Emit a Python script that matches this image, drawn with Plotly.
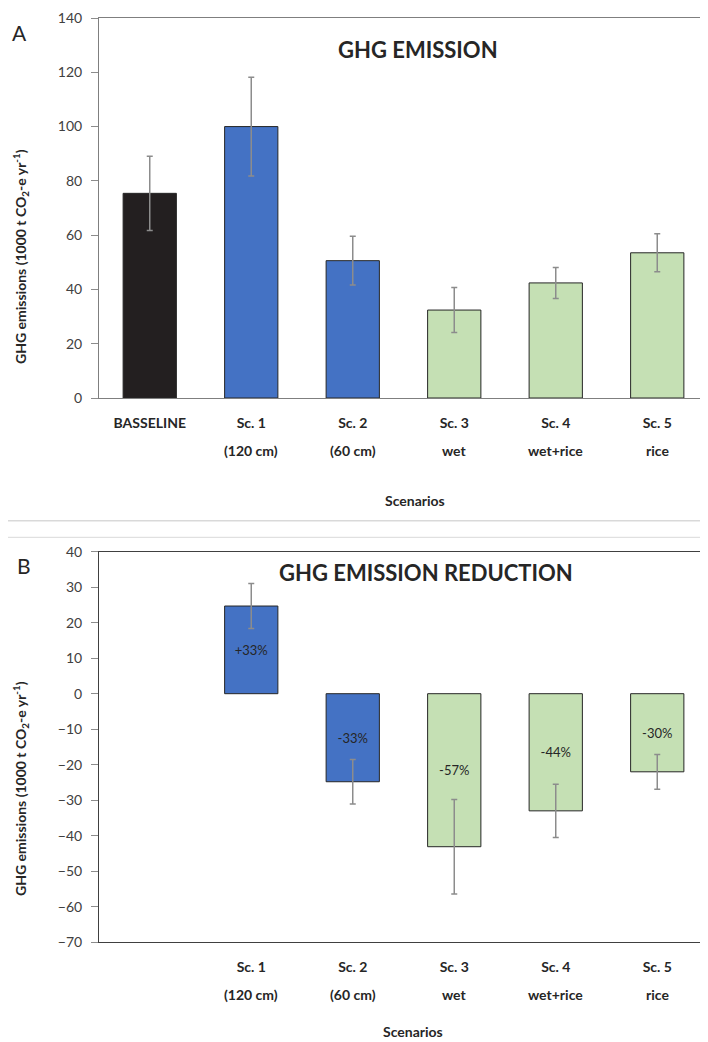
import plotly.graph_objects as go

categories = ["BASSELINE", "Sc. 1", "Sc. 2", "Sc. 3", "Sc. 4", "Sc. 5"]
sublabels = ["", "(120 cm)", "(60 cm)", "wet", "wet+rice", "rice"]
emission = [75.4, 100.0, 50.6, 32.4, 42.4, 53.5]
emission_err = [13.7, 18.2, 9.0, 8.3, 5.7, 7.0]
reduction = [None, 24.7, -24.8, -43.1, -33.0, -22.0]
reduction_err = [None, 6.35, 6.3, 13.3, 7.5, 4.9]
reduction_labels = ["", "+33%", "-33%", "-57%", "-44%", "-30%"]
top_ticks = [0, 20, 40, 60, 80, 100, 120, 140]
bottom_ticks = [40, 30, 20, 10, 0, -10, -20, -30, -40, -50, -60, -70]

# the page body adds an 8 px margin, so the figure is drawn 8 px smaller
OFF = 8
W, H = 708 - OFF, 1042 - OFF
ML = 99 - OFF
FONT = "Lato"
BLACK, BLUE, GREEN = "#231f20", "#4472c4", "#c5e0b4"
colors = [BLACK, BLUE, BLUE, GREEN, GREEN, GREEN]


def px_x(px):
    """screen pixel x -> paper fraction"""
    return (px - OFF - ML) / (W - ML)


def px_y(py):
    """screen pixel y -> paper fraction"""
    return 1 - (py - OFF) / H


bot_tickvals = [c for c, s in zip(categories, sublabels) if s]

fig = go.Figure()
fig.add_trace(go.Bar(
    x=categories, y=emission, width=0.525,
    marker=dict(color=colors, line=dict(color="#262626", width=1)),
    error_y=dict(type="data", array=emission_err, color="#8c8c8c", thickness=1.5, width=3),
    xaxis="x", yaxis="y", showlegend=False, hoverinfo="skip",
))
fig.add_trace(go.Bar(
    x=categories, y=reduction, width=0.525,
    marker=dict(color=colors, line=dict(color="#262626", width=1)),
    error_y=dict(type="data", array=reduction_err, color="#8c8c8c", thickness=1.5, width=3),
    text=reduction_labels, textposition="inside", insidetextanchor="middle",
    textangle=0, constraintext="none",
    textfont=dict(family=FONT, size=13, color="#262626"),
    xaxis="x2", yaxis="y2", showlegend=False, hoverinfo="skip",
))

axis_common = dict(showgrid=False, zeroline=False, showline=True, linewidth=1, automargin=False)
tickfont = dict(family=FONT, size=14, color="#404040")
xtickfont = dict(family=FONT, size=14, color="#262626", weight="bold")

fig.update_layout(
    width=W, height=H,
    margin=dict(l=ML, r=0, t=0, b=0, autoexpand=False),
    paper_bgcolor="white", plot_bgcolor="white",
    xaxis=dict(domain=[0, 1], anchor="y", type="category",
               categoryorder="array", categoryarray=categories,
               tickmode="array", tickvals=categories, ticktext=categories,
               tickfont=xtickfont, ticks="", mirror=True, linecolor="#7f7f7f",
               ticklabelstandoff=12, **axis_common),
    yaxis=dict(domain=[px_y(398), px_y(18)], anchor="x", range=[0, 140],
               tickmode="array", tickvals=top_ticks, ticks="outside", ticklen=7,
               tickcolor="#8c8c8c", tickfont=tickfont, linecolor="#7f7f7f",
               ticklabelstandoff=6, **axis_common),
    xaxis2=dict(domain=[0, 1], anchor="y2", type="category",
                categoryorder="array", categoryarray=categories,
                tickmode="array", tickvals=bot_tickvals, ticktext=bot_tickvals,
                tickfont=xtickfont, ticks="", mirror=True, linecolor="#404040",
                ticklabelstandoff=12, **axis_common),
    yaxis2=dict(domain=[px_y(942.2), px_y(551.7)], anchor="x2", range=[-70, 40],
                tickmode="array", tickvals=bottom_ticks, ticks="outside", ticklen=7,
                tickcolor="#8c8c8c", tickfont=tickfont, linecolor="#404040",
                ticklabelstandoff=6, **axis_common),
)

ytitle = "GHG emissions (1000 t CO<sub>2</sub>-e yr<sup>-1</sup>)"
ann_font_bold = dict(family=FONT, size=14, color="#262626", weight="bold")
annotations = [
    dict(text="GHG EMISSION", x=px_x(418), y=px_y(49.5),
         font=dict(family=FONT, size=22, color="#262626", weight="bold")),
    dict(text="GHG EMISSION REDUCTION", x=px_x(426), y=px_y(572),
         font=dict(family=FONT, size=22, color="#262626", weight="bold")),
    dict(text="A", x=px_x(19.5), y=px_y(32.5), font=dict(family=FONT, size=21, color="#262626")),
    dict(text="B", x=px_x(23.5), y=px_y(565), font=dict(family=FONT, size=21, color="#262626")),
    dict(text=ytitle, x=px_x(20), y=px_y(257), textangle=-90, font=ann_font_bold),
    dict(text=ytitle, x=px_x(20), y=px_y(789), textangle=-90, font=ann_font_bold),
    dict(text="Scenarios", x=px_x(415), y=px_y(501), font=ann_font_bold),
    dict(text="Scenarios", x=px_x(413), y=px_y(1031), font=ann_font_bold),
]
for a in annotations:
    a.update(xref="paper", yref="paper")
# second line of the category labels
for c, s in zip(categories, sublabels):
    if s:
        annotations.append(dict(text=s, x=c, xref="x", y=px_y(450), yref="paper", font=xtickfont))
        annotations.append(dict(text=s, x=c, xref="x2", y=px_y(994), yref="paper", font=xtickfont))
for a in annotations:
    a.update(showarrow=False, xanchor="center", yanchor="middle")
fig.update_layout(annotations=annotations)

fig.update_layout(shapes=[
    dict(type="line", xref="paper", yref="paper", x0=px_x(2), x1=px_x(708),
         y0=px_y(520.7), y1=px_y(520.7), line=dict(color="#d9d9d9", width=1.5)),
    dict(type="line", xref="paper", yref="paper", x0=px_x(2), x1=px_x(708),
         y0=px_y(537.3), y1=px_y(537.3), line=dict(color="#d9d9d9", width=1)),
])

fig.write_html("out.html")
